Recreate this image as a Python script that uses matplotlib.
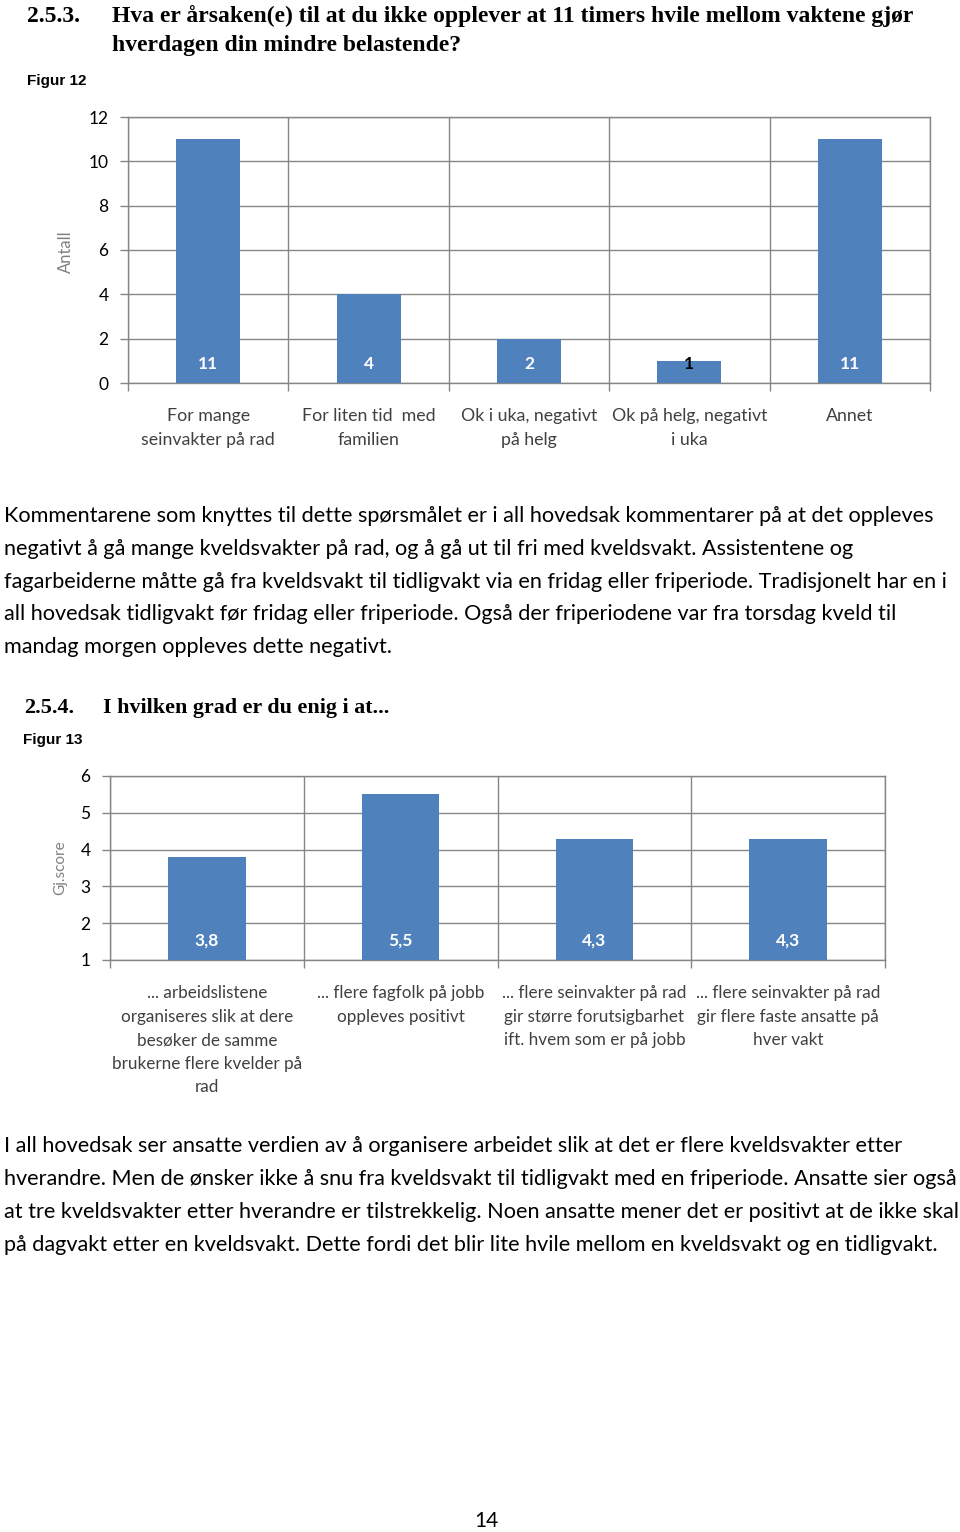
import matplotlib.pyplot as plt
import numpy as np

W, H = 960, 1532

# Figur 12
cat12 = ['For mange\nseinvakter på rad', 'For liten tid  med\nfamilien',
         'Ok i uka, negativt\npå helg', 'Ok på helg, negativt\ni uka', 'Annet']
val12 = [11, 4, 2, 1, 11]
lab12 = ['11', '4', '2', '1', '11']

# Figur 13
cat13 = ['... arbeidslistene\norganiseres slik at dere\nbesøker de samme\nbrukerne flere kvelder på\nrad',
         '... flere fagfolk på jobb\noppleves positivt',
         '... flere seinvakter på rad\ngir større forutsigbarhet\nift. hvem som er på jobb',
         '... flere seinvakter på rad\ngir flere faste ansatte på\nhver vakt']
val13 = [3.8, 5.5, 4.3, 4.3]
lab13 = ['3,8', '5,5', '4,3', '4,3']

para1 = ['Kommentarene som knyttes til dette spørsmålet er i all hovedsak kommentarer på at det oppleves',
         'negativt å gå mange kveldsvakter på rad, og å gå ut til fri med kveldsvakt. Assistentene og',
         'fagarbeiderne måtte gå fra kveldsvakt til tidligvakt via en fridag eller friperiode. Tradisjonelt har en i',
         'all hovedsak tidligvakt før fridag eller friperiode. Også der friperiodene var fra torsdag kveld til',
         'mandag morgen oppleves dette negativt.']
para2 = ['I all hovedsak ser ansatte verdien av å organisere arbeidet slik at det er flere kveldsvakter etter',
         'hverandre. Men de ønsker ikke å snu fra kveldsvakt til tidligvakt med en friperiode. Ansatte sier også',
         'at tre kveldsvakter etter hverandre er tilstrekkelig. Noen ansatte mener det er positivt at de ikke skal',
         'på dagvakt etter en kveldsvakt. Dette fordi det blir lite hvile mellom en kveldsvakt og en tidligvakt.']

BAR = '#4F81BD'
GRID = '#868686'
TICK = '#404040'
BODY = ['Lato', 'DejaVu Sans']
HEAD = ['Liberation Serif', 'DejaVu Serif']
NARROW = ['Liberation Sans Narrow', 'Liberation Sans', 'DejaVu Sans']

fig = plt.figure(figsize=(W / 100, H / 100), dpi=100)


def ftext(x, y, s, **kw):
    kw.setdefault('va', 'center')
    return fig.text(x / W, 1 - y / H, s, **kw)


def make_axes(l, t, r, b):
    return fig.add_axes([l / W, 1 - b / H, (r - l) / W, (b - t) / H])


def bar_chart(ax, cats, vals, labels, yticks, ylim, pad, catsize, lsp):
    n = len(cats)
    x = np.arange(n)
    ax.bar(x, [v - ylim[0] for v in vals], bottom=ylim[0], width=0.4, color=BAR, zorder=3)
    ax.set_xlim(-0.5, n - 0.5)
    ax.set_ylim(*ylim)
    ax.set_yticks(yticks)
    ax.set_yticklabels([str(t) for t in yticks], family=BODY, fontsize=12.5, color='black')
    ax.set_xticks(np.arange(n + 1) - 0.5)
    ax.set_xticklabels([])
    ax.set_xticks(x, minor=True)
    ax.set_xticklabels(cats, minor=True, family=BODY, fontsize=catsize, color=TICK, linespacing=lsp)
    ax.tick_params(axis='x', which='minor', length=0, pad=pad)
    ax.tick_params(axis='x', which='major', length=6, color=GRID, width=1)
    ax.tick_params(axis='y', length=6, color=GRID, width=1, pad=8)
    ax.grid(True, which='major', color=GRID, lw=1, zorder=0)
    ax.set_axisbelow(True)
    for s in ax.spines.values():
        s.set_color(GRID)
        s.set_linewidth(1)
    for i, v in enumerate(vals):
        c = 'white' if v - ylim[0] > 1.5 * (ylim[1] - ylim[0]) / 12 else 'black'
        ax.annotate(labels[i], xy=(i, ylim[0]), xytext=(0, 19), textcoords='offset pixels',
                    ha='center', va='center', color=c, fontsize=12.5, fontweight='bold',
                    family=BODY, zorder=4)


# headings, chart 1
ftext(27, 16, '2.5.3.', family=HEAD, fontweight='bold', fontsize=17)
ftext(112, 16, 'Hva er årsaken(e) til at du ikke opplever at 11 timers hvile mellom vaktene gjør',
      family=HEAD, fontweight='bold', fontsize=17)
ftext(112, 46, 'hverdagen din mindre belastende?', family=HEAD, fontweight='bold', fontsize=17)
ftext(27, 81, 'Figur 12', family=NARROW, fontweight='bold', fontsize=11)

ax1 = make_axes(128, 117, 930, 383)
bar_chart(ax1, cat12, val12, lab12, list(range(0, 13, 2)), (0, 12), 18, 12.8, 1.6)
ftext(66, 252, 'Antall', family=BODY, fontsize=12, color='#808080', rotation=90, ha='center')

for i, line in enumerate(para1):
    ftext(4, 516 + i * 32.8, line, family=BODY, fontsize=15.6)

# headings, chart 2
ftext(24, 708, '2.5.4.', family=HEAD, fontweight='bold', fontsize=16)
ftext(103, 708, 'I hvilken grad er du enig i at...', family=HEAD, fontweight='bold', fontsize=15.8)
ftext(23, 740, 'Figur 13', family=NARROW, fontweight='bold', fontsize=11)

ax2 = make_axes(110, 776, 885, 960)
bar_chart(ax2, cat13, val13, lab13, list(range(1, 7)), (1, 6), 18, 12.3, 1.58)
ftext(60, 868, 'Gj.score', family=BODY, fontsize=11, color='#808080', rotation=90, ha='center')

for i, line in enumerate(para2):
    ftext(4, 1146 + i * 33, line, family=BODY, fontsize=15.6)

ftext(486, 1521, '14', family=BODY, fontsize=15, ha='center')

fig.savefig('out.png', dpi=100)
